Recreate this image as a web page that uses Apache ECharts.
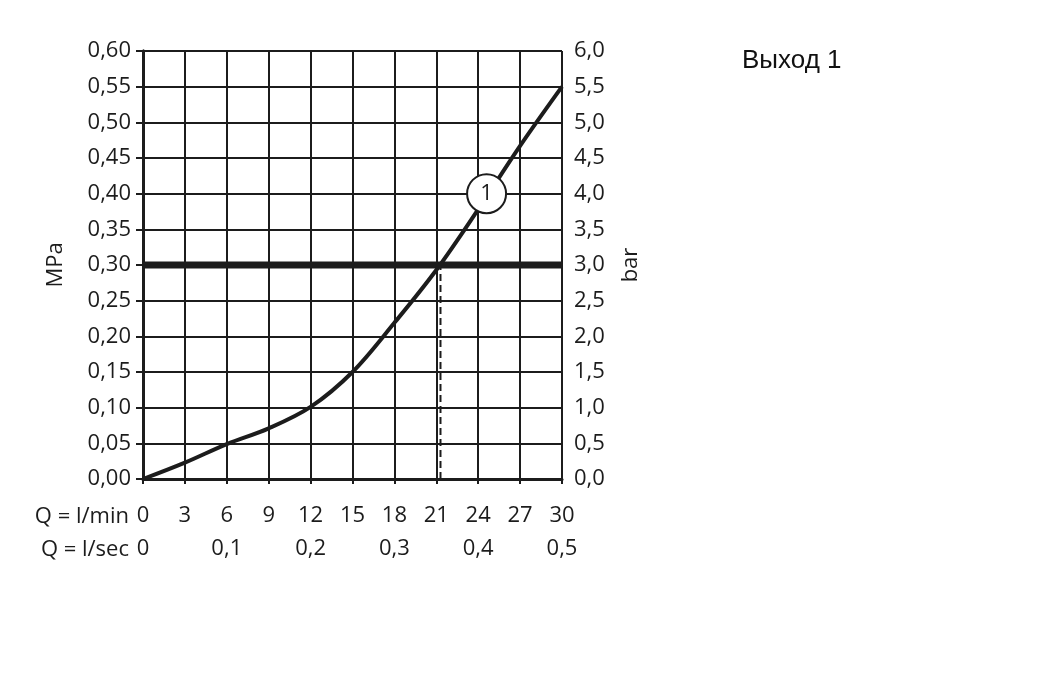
<!DOCTYPE html>
<html>
<head>
<meta charset="utf-8">
<script src="https://cdn.jsdelivr.net/npm/echarts@6/dist/echarts.min.js"></script>
<style>
html,body{margin:0;padding:0;background:#fff;}
#c{width:1059px;height:675px;}
</style>
</head>
<body>
<div id="c"></div>
<script>
// Data
const flowLpm     = [0, 3, 6, 9, 12, 15, 18, 21, 24, 27, 30];
const pressureMPa = [0, 0.023, 0.049, 0.071, 0.101, 0.15, 0.219, 0.293, 0.378, 0.467, 0.55];
const refPressure = 0.30;
const refFlow = 21.3;
const markerFlow = 24.6;
const markerPressure = 0.40;
const markerLabel = '1';
const titleText = 'Выход 1';
const leftAxisName = 'MPa';
const rightAxisName = 'bar';
const rowLabelMin = 'Q = l/min';
const rowLabelSec = 'Q = l/sec';

const ink = '#1c1c1c';
const font = 'Open Sans';
const fs = 22;

const chart = echarts.init(document.getElementById('c'), null, {renderer: 'canvas'});
const curve = flowLpm.map((x, i) => [x, pressureMPa[i]]);

chart.setOption({
  animation: false,
  backgroundColor: '#fff',
  grid: {left: 143, top: 51, right: 497, bottom: 196, containLabel: false},
  graphic: [
    {type: 'text', left: 742, top: 48, style: {text: titleText, font: '26px "Liberation Sans", Arial, sans-serif', fill: '#111'}},
    {type: 'text', x: 129, y: 517, style: {text: rowLabelMin, font: fs + 'px "' + font + '"', fill: ink, textAlign: 'right', textVerticalAlign: 'middle'}},
    {type: 'text', x: 129, y: 550, style: {text: rowLabelSec, font: fs + 'px "' + font + '"', fill: ink, textAlign: 'right', textVerticalAlign: 'middle'}}
  ],
  xAxis: [
    {
      type: 'value', min: 0, max: 30, interval: 3, position: 'bottom',
      axisLine: {show: true, onZero: false, lineStyle: {color: ink, width: 3}},
      axisTick: {show: true, inside: false, length: 5, lineStyle: {color: ink, width: 2}},
      splitLine: {show: true, lineStyle: {color: ink, width: 2}},
      axisLabel: {color: ink, fontFamily: font, fontSize: fs, margin: 26}
    },
    {
      type: 'value', min: 0, max: 0.5, interval: 0.1, position: 'bottom', offset: 33,
      axisLine: {show: false}, axisTick: {show: false}, splitLine: {show: false},
      axisLabel: {color: ink, fontFamily: font, fontSize: fs, margin: 26,
        formatter: v => (Math.round(v * 10) / 10).toString().replace('.', ',')}
    }
  ],
  yAxis: [
    {
      type: 'value', min: 0, max: 0.6, interval: 0.05, position: 'left',
      name: leftAxisName, nameLocation: 'middle', nameRotate: 90, nameGap: 76,
      nameTextStyle: {color: ink, fontFamily: font, fontSize: fs},
      axisLine: {show: true, lineStyle: {color: ink, width: 3}},
      axisTick: {show: true, inside: false, length: 7, lineStyle: {color: ink, width: 2}},
      splitLine: {show: true, lineStyle: {color: ink, width: 2}},
      axisLabel: {color: ink, fontFamily: font, fontSize: fs, margin: 12,
        formatter: v => v.toFixed(2).replace('.', ',')}
    },
    {
      type: 'value', min: 0, max: 6, interval: 0.5, position: 'right',
      name: rightAxisName, nameLocation: 'middle', nameRotate: 90, nameGap: 58,
      nameTextStyle: {color: ink, fontFamily: font, fontSize: fs},
      axisLine: {show: true, lineStyle: {color: ink, width: 3}},
      axisTick: {show: true, inside: false, length: 7, lineStyle: {color: ink, width: 2}},
      splitLine: {show: false},
      axisLabel: {color: ink, fontFamily: font, fontSize: fs, margin: 12,
        formatter: v => v.toFixed(1).replace('.', ',')}
    }
  ],
  series: [
    {
      type: 'line', data: [[0, refPressure], [30, refPressure]],
      showSymbol: false, lineStyle: {color: ink, width: 7}, z: 3, silent: true
    },
    {
      type: 'line', data: [[refFlow, 0], [refFlow, refPressure]],
      showSymbol: false, lineStyle: {color: ink, width: 2, type: [7, 4]}, z: 3, silent: true
    },
    {
      type: 'line', data: curve, smooth: 0.35, showSymbol: false,
      lineStyle: {color: ink, width: 4}, z: 4, silent: true
    },
    {
      type: 'scatter', data: [[markerFlow, markerPressure]], symbol: 'circle', symbolSize: 39,
      itemStyle: {color: '#fff', borderColor: ink, borderWidth: 2, opacity: 1}, z: 5,
      label: {show: true, position: 'inside', formatter: markerLabel, color: ink, fontFamily: font, fontSize: fs},
      silent: true
    }
  ]
});
</script>
</body>
</html>
